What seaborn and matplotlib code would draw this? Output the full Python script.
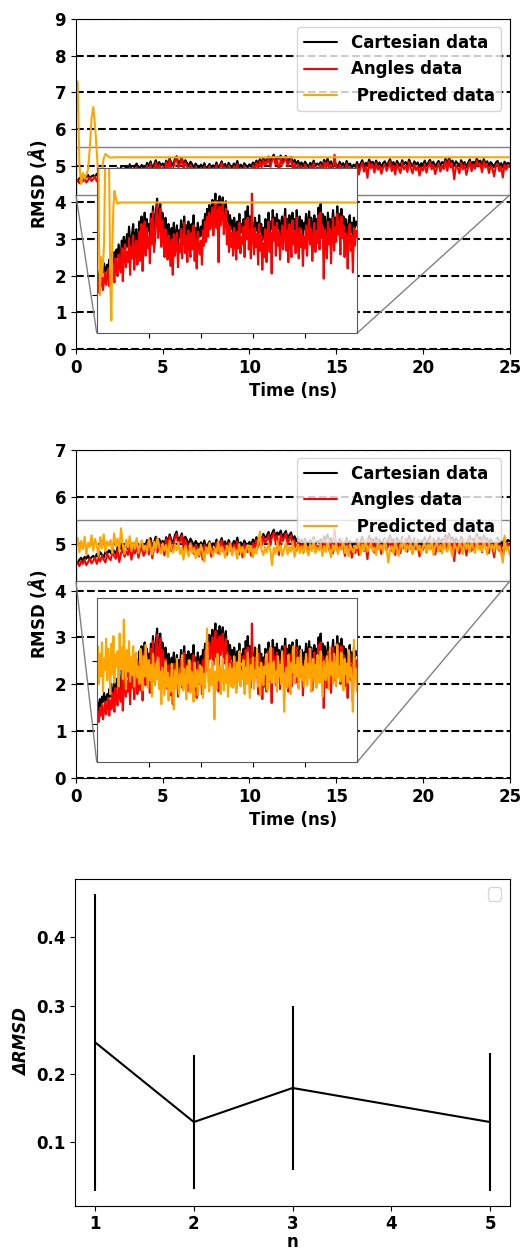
import numpy as np
import matplotlib
matplotlib.use("Agg")
import matplotlib.pyplot as plt
import seaborn as sns
from mpl_toolkits.axes_grid1.inset_locator import mark_inset

# --- data ---
# sampling grid for the MD trajectories (every 0.1 ns)
time_ns = np.linspace(0, 25, 251)

cartesian_rmsd = [
    4.62, 4.58, 4.66, 4.70, 4.63, 4.72, 4.68, 4.75, 4.66, 4.71,
    4.74, 4.69, 4.78, 4.72, 4.82, 4.76, 4.70, 4.84, 4.79, 4.86,
    4.80, 4.90, 4.84, 4.78, 4.93, 4.87, 4.96, 4.82, 4.91, 4.98,
    4.88, 5.04, 4.93, 4.86, 4.99, 5.06, 4.90, 4.97, 5.02, 4.89,
    4.95, 5.08, 4.98, 5.12, 4.94, 5.03, 5.15, 4.99, 5.10, 5.01,
    5.06, 4.97, 5.14, 5.04, 5.20, 5.08, 5.01, 5.18, 5.26, 5.07,
    5.12, 5.22, 5.03, 5.15, 5.08, 4.98, 5.11, 5.04, 4.95, 5.06,
    4.99, 4.91, 5.03, 4.94, 5.07, 4.92, 4.98, 5.05, 4.90, 5.01,
    4.96, 5.09, 4.93, 5.02, 5.12, 4.97, 5.05, 4.91, 5.08, 5.00,
    4.94, 5.06, 4.98, 5.13, 4.95, 5.03, 4.92, 5.07, 5.00, 4.96,
    5.04, 4.97, 5.09, 5.02, 5.14, 5.06, 5.18, 5.08, 5.21, 5.12,
    5.17, 5.25, 5.10, 5.22, 5.30, 5.14, 5.24, 5.19, 5.28, 5.13,
    5.21, 5.27, 5.11, 5.19, 5.24, 5.08, 5.16, 5.05, 5.13, 5.02,
    5.09, 4.98, 5.11, 5.04, 4.96, 5.08, 5.01, 5.14, 4.99, 5.06,
    5.02, 5.10, 4.97, 5.16, 5.05, 5.20, 5.03, 5.12, 4.98, 5.09,
    5.04, 4.95, 5.11, 5.01, 5.07, 4.96, 5.13, 5.00, 5.06, 4.93,
    5.03, 4.97, 5.10, 4.94, 5.06, 5.15, 4.99, 5.08, 5.02, 5.17,
    5.05, 5.11, 4.98, 5.14, 5.03, 5.09, 4.96, 5.07, 5.12, 5.00,
    5.08, 5.18, 5.02, 5.10, 4.97, 5.13, 5.05, 4.99, 5.15, 5.04,
    5.10, 5.01, 5.17, 5.06, 4.98, 5.12, 5.03, 5.09, 4.95, 5.07,
    5.02, 5.14, 4.99, 5.08, 5.16, 5.04, 5.11, 4.97, 5.06, 5.13,
    5.01, 5.10, 5.05, 5.19, 5.03, 5.22, 5.08, 5.14, 5.00, 5.12,
    5.06, 4.98, 5.15, 5.04, 5.10, 4.96, 5.08, 5.17, 5.02, 5.11,
    5.05, 5.20, 5.09, 5.14, 5.01, 5.18, 5.07, 5.12, 4.99, 5.10,
    5.04, 4.96, 5.09, 5.13, 5.00, 5.07, 4.95, 5.11, 5.03, 5.08,
    5.05,
]

angles_rmsd = [
    4.55, 4.60, 4.52, 4.63, 4.57, 4.66, 4.54, 4.61, 4.68, 4.58,
    4.64, 4.71, 4.57, 4.69, 4.62, 4.75, 4.66, 4.60, 4.79, 4.70,
    4.65, 4.82, 4.74, 4.68, 4.87, 4.61, 4.80, 4.90, 4.72, 4.84,
    4.76, 4.95, 4.66, 4.88, 4.79, 4.97, 4.70, 4.86, 4.93, 4.74,
    4.83, 5.00, 4.77, 5.06, 4.69, 4.91, 5.08, 4.81, 5.03, 4.87,
    4.96, 4.75, 5.10, 4.90, 5.16, 4.84, 4.93, 5.12, 5.21, 4.95,
    5.05, 5.18, 4.88, 5.09, 4.99, 4.80, 5.02, 4.92, 4.78, 4.97,
    4.86, 4.73, 4.94, 4.66, 4.98, 4.81, 4.88, 4.99, 4.72, 4.90,
    4.84, 5.02, 4.79, 4.95, 5.07, 4.83, 4.97, 4.76, 5.01, 4.89,
    4.80, 4.99, 4.86, 5.05, 4.77, 4.94, 4.71, 5.00, 4.88, 4.82,
    4.93, 4.74, 5.01, 4.89, 5.08, 4.92, 5.12, 4.96, 5.15, 5.02,
    5.08, 5.19, 4.97, 5.14, 5.24, 5.03, 5.17, 4.76, 5.20, 5.05,
    5.12, 5.22, 4.98, 5.10, 5.18, 4.90, 5.06, 4.84, 5.04, 4.88,
    4.99, 4.81, 5.03, 4.92, 4.78, 5.00, 4.87, 5.07, 4.83, 4.96,
    4.90, 5.04, 4.80, 5.09, 4.94, 5.11, 4.86, 5.02, 4.79, 5.30,
    4.95, 4.82, 5.03, 4.88, 4.98, 4.74, 5.06, 4.85, 4.97, 4.70,
    4.91, 4.80, 5.02, 4.76, 4.96, 5.08, 4.84, 4.99, 4.67, 5.10,
    4.93, 5.04, 4.81, 5.07, 4.89, 5.00, 4.78, 4.95, 5.05, 4.86,
    4.97, 5.12, 4.85, 5.01, 4.76, 5.06, 4.92, 4.80, 5.09, 4.90,
    5.00, 4.83, 5.11, 4.94, 4.79, 5.03, 4.88, 4.98, 4.73, 4.96,
    4.87, 5.05, 4.81, 4.99, 5.10, 4.90, 5.02, 4.77, 4.93, 5.07,
    4.84, 5.00, 4.91, 5.13, 4.86, 5.15, 4.95, 5.04, 4.63, 5.01,
    4.94, 4.79, 5.08, 4.90, 5.02, 4.75, 4.97, 5.11, 4.85, 5.03,
    4.92, 5.14, 4.98, 5.06, 4.82, 5.12, 4.95, 5.05, 4.80, 4.99,
    4.93, 4.71, 5.00, 5.06, 4.85, 4.97, 4.68, 5.03, 4.89, 5.01,
    4.96,
]

# first model: transient at the start, then constant
pred1_time = [0.0, 0.1, 0.2, 0.3, 0.4, 0.5, 0.6, 0.7, 0.8, 0.9, 1.0,
              1.1, 1.2, 1.3, 1.4, 1.5, 1.6, 1.7, 1.8, 1.9, 2.0, 2.2, 25.0]
pred1_rmsd = [6.4, 7.3, 5.0, 4.5, 4.8, 4.65, 4.75, 4.9, 5.5, 6.3, 6.6,
              6.1, 5.4, 4.6, 4.3, 4.9, 5.2, 5.32, 5.28, 5.24, 5.22, 5.23, 5.23]

# second model
pred2_rmsd = [
    4.95, 5.12, 4.82, 5.06, 4.88, 5.15, 4.76, 5.02, 4.93, 5.18,
    4.85, 5.10, 4.97, 4.74, 5.14, 4.90, 5.20, 4.83, 5.05, 4.96,
    5.08, 4.80, 5.22, 4.94, 5.11, 4.86, 5.33, 4.98, 4.78, 5.09,
    4.92, 5.16, 4.84, 5.03, 4.89, 5.12, 4.80, 4.99, 5.07, 4.87,
    4.96, 4.82, 5.10, 4.91, 4.77, 5.04, 4.88, 5.13, 4.93, 4.79,
    5.01, 4.85, 4.97, 4.72, 5.06, 4.90, 4.81, 4.98, 4.86, 5.03,
    4.78, 4.92, 4.66, 4.95, 4.84, 4.73, 5.00, 4.80, 4.91, 4.69,
    4.87, 4.76, 4.98, 4.82, 4.62, 4.93, 4.79, 5.02, 4.85, 4.74,
    4.90, 4.81, 5.05, 4.77, 4.94, 4.86, 4.70, 4.96, 4.83, 5.01,
    4.75, 4.92, 4.84, 4.68, 4.99, 4.80, 4.93, 4.73, 4.88, 4.97,
    4.82, 4.95, 4.71, 4.90, 4.79, 5.03, 5.26, 4.86, 4.76, 4.94,
    4.81, 5.00, 4.88, 4.54, 4.92, 4.78, 5.06, 4.85, 4.96, 4.74,
    4.89, 5.02, 4.77, 4.93, 4.83, 5.05, 4.72, 4.90, 4.98, 4.80,
    4.94, 4.79, 5.04, 4.87, 4.75, 4.99, 4.84, 5.08, 4.80, 4.92,
    4.86, 5.01, 4.74, 4.95, 4.82, 5.07, 4.89, 4.71, 4.97, 4.85,
    5.03, 4.78, 4.93, 4.88, 5.10, 4.80, 4.95, 4.73, 4.99, 4.87,
    4.81, 4.96, 4.90, 5.06, 4.77, 4.98, 4.85, 5.11, 4.83, 4.94,
    5.00, 4.84, 4.92, 4.76, 5.04, 4.88, 4.97, 4.82, 5.08, 4.90,
    4.60, 4.86, 4.95, 4.79, 5.05, 4.87, 4.74, 4.99, 4.91, 5.12,
    4.83, 4.97, 4.88, 5.03, 4.78, 4.94, 5.09, 4.85, 4.96, 4.80,
    4.93, 5.06, 4.81, 4.98, 4.87, 5.10, 4.76, 4.95, 5.02, 4.84,
    4.97, 4.79, 5.05, 4.90, 4.83, 5.08, 4.88, 4.72, 5.00, 4.92,
    4.85, 5.04, 4.94, 4.78, 5.11, 4.89, 4.99, 4.82, 5.06, 4.91,
    4.80, 5.13, 4.87, 4.96, 4.84, 5.07, 4.93, 4.77, 5.02, 4.90,
    4.98, 4.83, 5.09, 4.88, 4.95, 4.79, 4.60, 5.17, 4.86, 4.93,
    4.76,
]

n_values = [1, 2, 3, 5]
delta_rmsd = [0.246, 0.129, 0.179, 0.129]
delta_err = [0.218, 0.099, 0.120, 0.101]

# --- style ---
sns.set_theme(style="ticks", rc={
    "axes.linewidth": 0.8, "xtick.major.size": 3.5, "ytick.major.size": 3.5,
    "xtick.major.width": 0.8, "ytick.major.width": 0.8,
    "axes.edgecolor": "black", "text.color": "black", "axes.labelcolor": "black",
    "xtick.color": "black", "ytick.color": "black",
})
plt.rcParams["font.family"] = ["DejaVu Sans"]
plt.rcParams["font.size"] = 12
plt.rcParams["font.weight"] = "bold"
plt.rcParams["axes.labelweight"] = "bold"
plt.rcParams["axes.labelsize"] = 12
plt.rcParams["xtick.labelsize"] = 12
plt.rcParams["ytick.labelsize"] = 12
plt.rcParams["legend.fontsize"] = 12

fig = plt.figure(figsize=(5.31, 12.52), dpi=100)
ax1 = fig.add_axes([0.143, 0.7212, 0.817, 0.2636])
ax2 = fig.add_axes([0.143, 0.3786, 0.817, 0.262])
ax3 = fig.add_axes([0.142, 0.0370, 0.818, 0.2609])


def rmsd_panel(ax, pred_t, pred_y, ymax):
    sns.lineplot(x=time_ns, y=cartesian_rmsd, color="black", linewidth=1.5,
                 label="Cartesian data", ax=ax)
    sns.lineplot(x=time_ns, y=angles_rmsd, color="red", linewidth=1.5,
                 label="Angles data", ax=ax)
    sns.lineplot(x=pred_t, y=pred_y, color="orange", linewidth=1.5,
                 label=" Predicted data", ax=ax)
    ax.set_xlim(0, 25)
    ax.set_ylim(0, ymax)
    ax.set_yticks(range(0, ymax + 1))
    ax.yaxis.grid(True, linestyle="--", color="black", linewidth=1.5)
    ax.set_xlabel("Time (ns)")
    ax.set_ylabel(r"RMSD ($\AA$)")
    ax.legend(loc="upper right")

    # zoomed view of the plateau
    axins = ax.inset_axes([0.048, 0.048, 0.60, 0.50])
    sns.lineplot(x=time_ns, y=cartesian_rmsd, color="black", linewidth=1.5,
                 legend=False, ax=axins)
    sns.lineplot(x=time_ns, y=angles_rmsd, color="red", linewidth=1.5,
                 legend=False, ax=axins)
    sns.lineplot(x=pred_t, y=pred_y, color="orange", linewidth=1.5,
                 legend=False, ax=axins)
    axins.set_xlim(0, 25)
    axins.set_ylim(4.2, 5.5)
    axins.set_xticks([5, 10, 15, 20])
    axins.set_yticks([4.5, 5.0])
    axins.tick_params(labelbottom=False, labelleft=False)
    axins.set_xlabel("")
    axins.set_ylabel("")
    axins.set_facecolor("white")
    for sp in axins.spines.values():
        sp.set_color("0.35")
    mark_inset(ax, axins, loc1=3, loc2=4, fc="none", ec="0.5")


rmsd_panel(ax1, pred1_time, pred1_rmsd, 9)
rmsd_panel(ax2, time_ns, pred2_rmsd, 7)

# --- Delta RMSD vs n ---
sns.lineplot(x=n_values, y=delta_rmsd, color="black", linewidth=1.5, ax=ax3)
ax3.errorbar(n_values, delta_rmsd, yerr=delta_err, fmt="none",
             ecolor="black", elinewidth=1.5, capsize=0)
ax3.set_xticks([1, 2, 3, 4, 5])
ax3.set_yticks([0.1, 0.2, 0.3, 0.4])
ax3.set_xlabel("n", labelpad=0)
ax3.set_ylabel("ΔRMSD", fontstyle="italic", fontweight="bold")
ax3.legend(loc="upper right")

fig.savefig("out.png", dpi=100)
